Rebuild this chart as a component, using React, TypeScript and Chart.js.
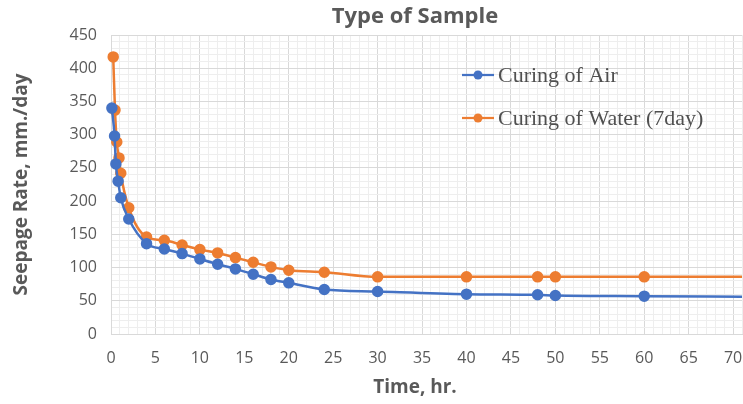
import React, { useEffect, useRef } from "react";
import { Chart, registerables } from "chart.js";

Chart.register(...registerables);

const chartTitle = "Type of Sample";
const xTitle = "Time, hr.";
const yTitle = "Seepage Rate, mm./day";

const airLabel = "Curing of Air";
const airTime = [0.1, 0.4, 0.55, 0.8, 1.1, 2, 4, 6, 8, 10, 12, 14, 16, 18, 20, 24, 30, 40, 48, 50, 60, 72];
const airRate = [340, 298, 256, 230, 205, 173, 136, 128, 121, 113, 105, 98, 90, 82, 77, 67, 64, 60, 59, 58, 57, 56];

const waterLabel = "Curing of Water (7day)";
const waterTime = [0.25, 0.45, 0.65, 0.9, 1.1, 2, 4, 6, 8, 10, 12, 14, 16, 18, 20, 24, 30, 40, 48, 50, 60, 72];
const waterRate = [417, 337, 289, 265, 242, 190, 146, 141, 134, 127, 122, 115, 108, 101, 96, 93, 86, 86, 86, 86, 86, 86];

const xMin = 0;
const xMax = 71;
const xMajor = 5;
const yMin = 0;
const yMax = 450;
const yMajor = 50;

const BLUE = "#4472C4";
const ORANGE = "#ED7D31";
const TEXT = "#595959";
const MAJOR = "#d9d9d9";
const MINOR = "#eeeeee";

const toXY = (xs: number[], ys: number[]) => xs.map((x, i) => ({ x, y: ys[i] }));

const areaPlugin = {
  id: "fixArea",
  afterLayout(chart: any) {
    const R = 742;
    const ca = chart.chartArea;
    ca.right = R;
    ca.width = R - ca.left;
    const x = chart.scales.x;
    x.right = R;
    x.width = R - x.left;
    x.configure();
  },
};

const textPlugin = {
  id: "textPlugin",
  afterDraw(chart: any) {
    const { ctx } = chart;
    ctx.save();
    ctx.fillStyle = TEXT;
    ctx.textAlign = "center";
    ctx.textBaseline = "middle";
    ctx.font = "bold 22px 'Open Sans'";
    ctx.fillText(chartTitle, 415, 17);
    ctx.font = "bold 19px 'Open Sans'";
    ctx.fillText(xTitle, 415, 388);
    ctx.restore();
  },
};

const legendPlugin = {
  id: "insideLegend",
  afterDatasetsDraw(chart: any) {
    const { ctx } = chart;
    const rows = [75, 118];
    ctx.save();
    chart.data.datasets.forEach((ds: any, i: number) => {
      const y = rows[i];
      ctx.strokeStyle = ds.borderColor;
      ctx.lineWidth = 2.25;
      ctx.beginPath();
      ctx.moveTo(462, y);
      ctx.lineTo(494, y);
      ctx.stroke();
      ctx.fillStyle = ds.backgroundColor;
      ctx.beginPath();
      ctx.arc(478, y, 4.5, 0, Math.PI * 2);
      ctx.fill();
      ctx.fillStyle = "#505050";
      ctx.font = "22px 'Liberation Serif'";
      ctx.textAlign = "left";
      ctx.textBaseline = "middle";
      ctx.fillText(ds.label, 498, y + 1);
    });
    ctx.restore();
  },
};

export default function App() {
  const ref = useRef<HTMLCanvasElement | null>(null);
  useEffect(() => {
    if (!ref.current) return;
    const mk = (label: string, xs: number[], ys: number[], color: string) => ({
      label,
      data: toXY(xs, ys),
      borderColor: color,
      backgroundColor: color,
      pointBackgroundColor: color,
      pointBorderColor: color,
      borderWidth: 2.5,
      pointRadius: 4.5,
      pointHoverRadius: 4.5,
      cubicInterpolationMode: "monotone" as const,
      clip: { left: 8, top: 8, right: 0, bottom: 8 },
    });
    const chart = new Chart(ref.current, {
      type: "line",
      data: {
        datasets: [
          mk(airLabel, airTime, airRate, BLUE),
          mk(waterLabel, waterTime, waterRate, ORANGE),
        ],
      },
      options: {
        responsive: false,
        animation: false,
        layout: { padding: { top: 35, right: 1, left: 0, bottom: 0 } },
        plugins: {
          legend: { display: false },
          title: { display: false },
          tooltip: { enabled: false },
        },
        scales: {
          x: {
            type: "linear",
            min: xMin,
            max: xMax,
            afterFit: (s: any) => {
              s.height = 70;
              s.paddingLeft = 0;
              s.paddingRight = 0;
            },
            ticks: {
              stepSize: 1,
              autoSkip: false,
              maxRotation: 0,
              padding: 15,
              color: TEXT,
              font: { family: "'Open Sans'", size: 16 },
              callback: (v: any) => (Number(v) % xMajor === 0 ? String(v) : ""),
            },
            grid: {
              drawTicks: false,
              lineWidth: 1,
              color: (c: any) => (c.tick && c.tick.value % xMajor === 0 ? MAJOR : MINOR),
            },
            border: { display: true, color: MAJOR },
          },
          y: {
            type: "linear",
            min: yMin,
            max: yMax,
            afterFit: (s: any) => {
              s.width = 111;
            },
            ticks: {
              stepSize: 10,
              autoSkip: false,
              padding: 14,
              color: TEXT,
              font: { family: "'Open Sans'", size: 16 },
              callback: (v: any) => (Number(v) % yMajor === 0 ? String(v) : ""),
            },
            grid: {
              drawTicks: false,
              lineWidth: 1,
              color: (c: any) => (c.tick && c.tick.value % yMajor === 0 ? MAJOR : MINOR),
            },
            border: { display: true, color: MAJOR },
            title: {
              display: true,
              text: yTitle,
              color: TEXT,
              font: { family: "'Open Sans'", size: 19, weight: "bold" },
              padding: { top: 10, bottom: 0 },
            },
          },
        },
      },
      plugins: [areaPlugin, textPlugin, legendPlugin],
    });
    return () => chart.destroy();
  }, []);
  return (
    <div style={{ position: "absolute", left: 0, top: 0, width: 743, height: 404, background: "#fff" }}>
      <canvas ref={ref} width={743} height={404} style={{ display: "block" }} />
    </div>
  );
}
